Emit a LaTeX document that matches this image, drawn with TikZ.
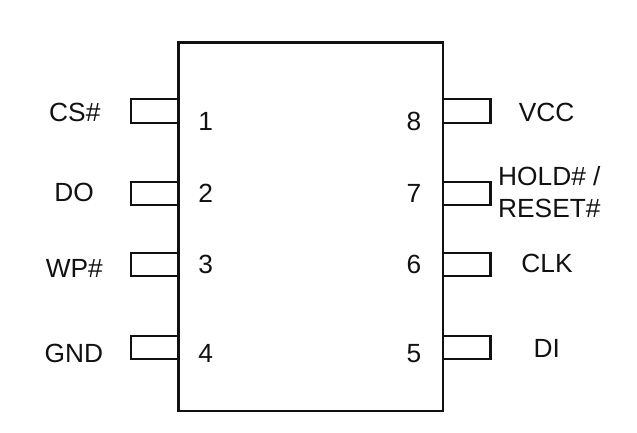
\documentclass[tikz,border=0pt]{standalone}
\usepackage{fontspec}
\setmainfont{Liberation Sans}
\definecolor{ink}{HTML}{111111}
\tikzset{
  x=1pt,y=-1pt,
  body/.style={draw=ink,line width=2.2pt,fill=none,inner sep=0pt,minimum width=264.5pt,minimum height=368.5pt},
  pinbox/.style={draw=ink,line width=2.2pt,inner sep=0pt,minimum width=47.5pt,minimum height=23.3pt},
  lbl/.style={text=ink,inner sep=0pt,anchor=base,font=\fontsize{26.3}{30}\selectfont},
  lblleft/.style={lbl,anchor=base west},
}
\begin{document}
\begin{tikzpicture}
\useasboundingbox (0,0) rectangle (637,433);
\node[pinbox] (p1) at (154.8,111) {};
\node[pinbox] (p2) at (154.8,193.5) {};
\node[pinbox] (p3) at (154.8,264.4) {};
\node[pinbox] (p4) at (154.8,347.3) {};
\node[pinbox] (p8) at (466.8,111) {};
\node[pinbox] (p7) at (466.8,193.5) {};
\node[pinbox] (p6) at (466.8,264.4) {};
\node[pinbox] (p5) at (466.8,347.3) {};
\node[body] (chip) at (310.8,226.8) {};
\node[lbl] (n1) at (205.7,131) {1};
\node[lbl] (n2) at (205.7,202.2) {2};
\node[lbl] (n3) at (205.7,273) {3};
\node[lbl] (n4) at (205.7,362.2) {4};
\node[lbl] (n8) at (414,131) {8};
\node[lbl] (n7) at (414,202.2) {7};
\node[lbl] (n6) at (414,273) {6};
\node[lbl] (n5) at (414,362.2) {5};
\node[lbl] (cs) at (74.8,121.2) {CS\#};
\node[lbl] (do) at (74,201.5) {DO};
\node[lbl] (wp) at (74.3,277.2) {WP\#};
\node[lbl] (gnd) at (73.8,362.2) {GND};
\node[lbl] (vcc) at (546.7,121.2) {VCC};
\node[lblleft] (hold) at (498,185.5) {HOLD\# /};
\node[lblleft] (reset) at (498,217.2) {RESET\#};
\node[lbl] (clk) at (547,272.5) {CLK};
\node[lbl] (di) at (546.7,357.5) {DI};
\end{tikzpicture}
\end{document}
